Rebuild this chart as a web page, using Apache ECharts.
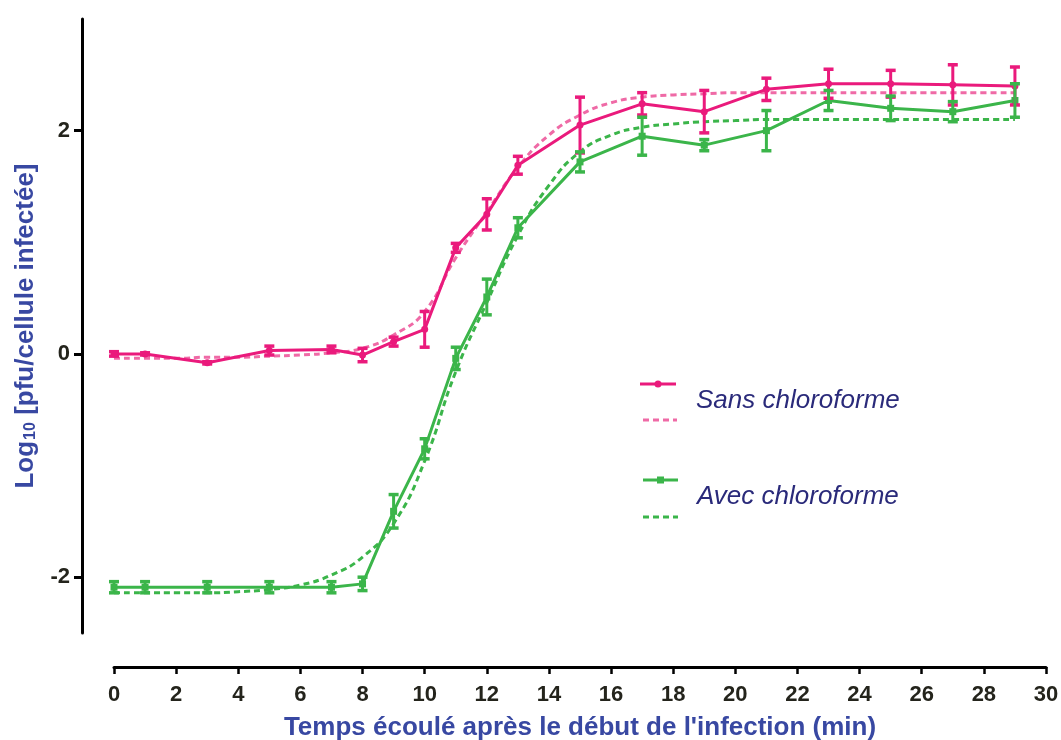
<!DOCTYPE html>
<html>
<head>
<meta charset="utf-8">
<script src="https://cdn.jsdelivr.net/npm/echarts@6/dist/echarts.min.js"></script>
<style>
html,body{margin:0;padding:0;background:#fff;}
#chart{width:1061px;height:740px;}
</style>
</head>
<body>
<div id="chart"></div>
<script>
// ---- data ----
const times = [0, 1, 3, 5, 7, 8, 9, 10, 11, 12, 13, 15, 17, 19, 21, 23, 25, 27, 29];
const sansMean = [0.00, 0.00, -0.08, 0.03, 0.04, -0.01, 0.11, 0.22, 0.95, 1.25, 1.69, 2.05, 2.24, 2.17, 2.37, 2.42, 2.42, 2.41, 2.40];
const sansErr  = [0.02, 0.01, 0.01, 0.04, 0.03, 0.06, 0.04, 0.16, 0.04, 0.14, 0.08, 0.25, 0.10, 0.19, 0.10, 0.13, 0.12, 0.18, 0.17];
const avecMean = [-2.09, -2.09, -2.09, -2.09, -2.09, -2.06, -1.41, -0.85, -0.04, 0.51, 1.13, 1.72, 1.95, 1.87, 2.00, 2.27, 2.20, 2.17, 2.27];
const avecErr  = [0.05, 0.05, 0.05, 0.05, 0.05, 0.06, 0.15, 0.09, 0.10, 0.16, 0.09, 0.09, 0.17, 0.05, 0.18, 0.09, 0.11, 0.09, 0.15];

const fitTimes = [0,1,2,3,4,5,6,7,8,9,10,11,12,13,14,15,16,17,18,19,20,21,22,23,24,25,26,27,28,29];
const sansFit = [-0.04,-0.04,-0.04,-0.03,-0.03,-0.02,-0.01,0.01,0.05,0.17,0.38,0.86,1.27,1.67,1.96,2.14,2.25,2.30,2.32,2.33,2.34,2.34,2.34,2.34,2.34,2.34,2.34,2.34,2.34,2.34];
const avecFit = [-2.14,-2.14,-2.14,-2.14,-2.13,-2.11,-2.07,-1.98,-1.82,-1.52,-0.96,-0.16,0.46,1.06,1.51,1.81,1.96,2.03,2.06,2.08,2.09,2.10,2.10,2.10,2.10,2.10,2.10,2.10,2.10,2.10];

const xTicks = [0, 30, 2];       // min, max, step
const yTickValues = [-2, 0, 2];

const PINK = '#ea1a7c';
const PINK_FIT = '#ef6aa6';
const GREEN = '#3bb54a';
const GREEN_FIT = '#3bb54a';
const TITLE_BLUE = '#3848a2';
const LABEL_DARK = '#24241c';
const FONT = '"Liberation Sans", Arial, sans-serif';

function pairs(xs, ys){ return xs.map((x,i)=>[x, ys[i]]); }
function errData(xs, m, e){ return xs.map((x,i)=>[x, m[i]-e[i], m[i]+e[i]]); }

function errRender(color){
  return function(params, api){
    const x = api.value(0), lo = api.value(1), hi = api.value(2);
    const p1 = api.coord([x, lo]), p2 = api.coord([x, hi]);
    const hw = 5;
    const st = {stroke: color, lineWidth: 3.5};
    return {type:'group', children:[
      {type:'line', shape:{x1:p1[0], y1:p1[1], x2:p2[0], y2:p2[1]}, style:{stroke:color, lineWidth:3}},
      {type:'line', shape:{x1:p1[0]-hw, y1:p1[1], x2:p1[0]+hw, y2:p1[1]}, style:st},
      {type:'line', shape:{x1:p2[0]-hw, y1:p2[1], x2:p2[0]+hw, y2:p2[1]}, style:st}
    ]};
  };
}

const chart = echarts.init(document.getElementById('chart'), null, {renderer:'canvas'});
chart.setOption({
  animation: false,
  backgroundColor: '#ffffff',
  grid: {left: 114, right: 15, top: 19, bottom: 107, containLabel: false, outerBoundsMode: 'none'},
  xAxis: {
    type: 'value', min: xTicks[0], max: xTicks[1], interval: xTicks[2],
    offset: 34,
    axisLine: {show: true, onZero: false, lineStyle: {color: '#000', width: 3}},
    axisTick: {show: true, inside: false, length: 7, lineStyle: {color: '#000', width: 2.5}},
    axisLabel: {color: LABEL_DARK, fontFamily: FONT, fontWeight: 'bold', fontSize: 22, margin: 17},
    splitLine: {show: false},
    name: "Temps écoulé après le début de l'infection (min)",
    nameLocation: 'middle', nameGap: 48,
    nameTextStyle: {color: TITLE_BLUE, fontFamily: FONT, fontWeight: 'bold', fontSize: 26}
  },
  yAxis: {
    type: 'value', min: -2.5, max: 3,
    offset: 32,
    axisLine: {show: true, onZero: false, lineStyle: {color: '#000', width: 3}},
    axisTick: {show: true, inside: false, length: 8, customValues: yTickValues, lineStyle: {color: '#000', width: 3}},
    axisLabel: {color: LABEL_DARK, fontFamily: FONT, fontWeight: 'bold', fontSize: 22, margin: 12, customValues: yTickValues},
    splitLine: {show: false},
    name: '{a|Log}{s|10}{a| [pfu/cellule infectée]}',
    nameLocation: 'middle', nameGap: 43, nameRotate: 90,
    nameTextStyle: {
      rich: {
        a: {color: TITLE_BLUE, fontFamily: FONT, fontWeight: 'bold', fontSize: 26},
        s: {color: TITLE_BLUE, fontFamily: FONT, fontWeight: 'bold', fontSize: 16, verticalAlign: 'bottom', padding: [10, 0, 0, 1]}
      }
    }
  },
  series: [
    {
      name: 'Sans chloroforme (ajustement)', type: 'line', data: pairs(fitTimes, sansFit),
      smooth: 0.5, showSymbol: false, z: 2,
      lineStyle: {color: PINK_FIT, width: 3, type: [6, 4]}
    },
    {
      name: 'Avec chloroforme (ajustement)', type: 'line', data: pairs(fitTimes, avecFit),
      smooth: 0.5, showSymbol: false, z: 2,
      lineStyle: {color: GREEN_FIT, width: 3, type: [6, 4]}
    },
    {
      name: 'Sans chloroforme', type: 'line', data: pairs(times, sansMean),
      symbol: 'circle', symbolSize: 7, z: 4,
      itemStyle: {color: PINK}, lineStyle: {color: PINK, width: 3}
    },
    {
      name: 'Avec chloroforme', type: 'line', data: pairs(times, avecMean),
      symbol: 'rect', symbolSize: 7, z: 4,
      itemStyle: {color: GREEN}, lineStyle: {color: GREEN, width: 3}
    },
    {
      name: 'err sans', type: 'custom', data: errData(times, sansMean, sansErr),
      encode: {x: 0, y: [1, 2]}, renderItem: errRender(PINK), z: 5
    },
    {
      name: 'err avec', type: 'custom', data: errData(times, avecMean, avecErr),
      encode: {x: 0, y: [1, 2]}, renderItem: errRender(GREEN), z: 5
    }
  ],
  graphic: [
    {type:'line', shape:{x1:640, y1:384, x2:676, y2:384}, style:{stroke:PINK, lineWidth:3}},
    {type:'circle', shape:{cx:658, cy:384, r:3.5}, style:{fill:PINK}},
    {type:'line', shape:{x1:643, y1:420, x2:677, y2:420}, style:{stroke:PINK_FIT, lineWidth:3, lineDash:[6,4]}},
    {type:'text', x:696, y:401, style:{text:'Sans chloroforme', font:'italic 26px "Liberation Sans", Arial, sans-serif', fill:'#2a2a7a', verticalAlign:'middle'}},
    {type:'line', shape:{x1:643, y1:480, x2:678, y2:480}, style:{stroke:GREEN, lineWidth:3}},
    {type:'rect', shape:{x:657, y:476.5, width:7, height:7}, style:{fill:GREEN}},
    {type:'line', shape:{x1:643, y1:517, x2:678, y2:517}, style:{stroke:GREEN_FIT, lineWidth:3, lineDash:[6,4]}},
    {type:'text', x:697, y:497, style:{text:'Avec chloroforme', font:'italic 26px "Liberation Sans", Arial, sans-serif', fill:'#2a2a7a', verticalAlign:'middle'}}
  ]
});
</script>
</body>
</html>
